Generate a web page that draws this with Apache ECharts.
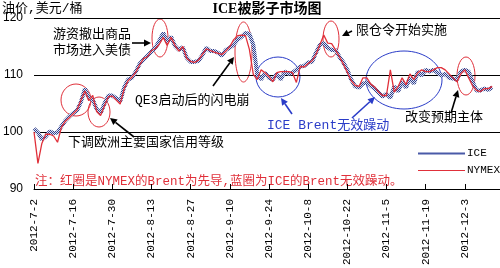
<!DOCTYPE html>
<html><head><meta charset="utf-8">
<script src="https://cdn.jsdelivr.net/npm/echarts@6/dist/echarts.min.js"></script>
<style>html,body{margin:0;padding:0;background:#fff}#c{width:500px;height:268px}</style>
</head><body><div id="c"></div>
<script>
// Category axis: trading days (weekdays) from 2012-7-2
const startDate = [2012, 7, 2];
const dayCount = 120;
const tickLabels = ['2012-7-2','2012-7-16','2012-7-30','2012-8-13','2012-8-27','2012-9-10','2012-9-24','2012-10-8','2012-10-22','2012-11-5','2012-11-19','2012-12-3'];
const categories = (function(){
  const out = []; const d = new Date(Date.UTC(startDate[0], startDate[1]-1, startDate[2]));
  while (out.length < dayCount) {
    const wd = d.getUTCDay();
    if (wd !== 0 && wd !== 6) out.push(d.getUTCFullYear()+'-'+(d.getUTCMonth()+1)+'-'+d.getUTCDate());
    d.setUTCDate(d.getUTCDate()+1);
  }
  return out;
})();
const yTicks = [90, 100, 110, 120];

const iceValues = [
100.6,99.9,98.7,99.2,100.1,99.8,99.9,101.0,102.0,102.7,
103.3,103.8,105.3,107.6,106.0,105.7,104.0,103.3,105.0,106.4,
106.4,105.9,105.3,107.8,109.2,109.5,110.6,112.0,112.7,113.4,
114.1,114.8,116.0,117.4,115.8,116.7,115.1,114.4,114.9,113.0,
112.3,112.3,112.5,113.5,114.8,114.2,114.2,113.9,113.4,114.4,
114.8,115.3,116.2,116.7,117.4,117.2,115.3,110.1,109.2,110.4,
109.5,109.2,110.2,109.2,110.6,110.2,110.4,110.9,111.5,111.6,
112.2,112.3,113.9,115.3,115.6,114.8,114.4,114.4,113.2,112.2,
110.9,109.2,108.0,107.8,108.5,108.7,108.1,107.6,106.9,106.2,
106.7,106.0,108.0,107.1,108.8,107.8,109.5,108.5,110.6,109.9,
110.9,110.6,110.9,110.4,109.9,110.2,109.5,109.4,109.2,110.6,
110.9,110.6,108.8,107.3,107.3,107.6,107.4,107.8
];
const nymexValues = [
100.0,94.5,98.0,99.6,99.6,99.3,98.2,100.8,101.9,102.5,
103.2,103.9,105.6,107.2,105.5,106.4,103.6,102.9,104.6,106.2,
106.3,105.6,104.9,107.5,109.0,109.6,110.5,111.8,112.9,113.2,
114.3,114.6,115.4,116.6,115.2,116.6,115.2,114.2,115.0,112.9,
112.4,112.2,112.6,113.6,114.6,114.3,114.0,113.8,113.6,114.2,
115.0,116.2,116.9,117.0,116.9,114.5,110.1,109.2,110.9,110.4,
109.7,108.8,110.4,110.6,110.6,110.6,110.4,108.7,111.5,111.4,
112.0,112.5,113.6,115.3,117.0,115.6,115.5,114.4,113.2,111.9,
110.5,109.0,108.2,108.0,109.5,109.5,108.4,107.9,107.0,106.4,
106.4,110.9,107.0,108.0,109.5,108.3,110.2,109.2,110.4,110.9,
110.6,110.6,110.9,111.3,111.3,110.9,110.2,109.5,108.8,110.2,
110.9,109.5,108.1,107.3,107.1,107.6,107.6,108.0
];
const seriesNames = ['ICE', 'NYMEX'];

// checkered pattern for the ICE line
const pc = document.createElement('canvas'); pc.width = 2; pc.height = 2;
const pg = pc.getContext('2d');
pg.fillStyle = '#dde4f4'; pg.fillRect(0,0,2,2);
pg.fillStyle = '#33418c'; pg.fillRect(0,0,1,1); pg.fillRect(1,1,1,1);

const CJK = '"Liberation Mono","Noto Sans CJK SC",monospace';
function txt(t, x, y, color, size, align) {
  return {type:'text', silent:true, style:{text:t, x:x, y:y, fill:color||'#000', font:(size||13)+'px '+CJK, textAlign:align||'left', textVerticalAlign:'middle'}};
}
function ell(cx, cy, rx, ry, color) {
  return {type:'ellipse', silent:true, shape:{cx:cx, cy:cy, rx:rx, ry:ry}, style:{fill:'none', stroke:color, lineWidth:1}};
}
function arrow(x1, y1, x2, y2, color) {
  const dx = x2-x1, dy = y2-y1, L = Math.sqrt(dx*dx+dy*dy), ux = dx/L, uy = dy/L;
  const hl = 7, hw = 3.5;
  const bx = x2-ux*hl, by = y2-uy*hl;
  return [
    {type:'line', silent:true, shape:{x1:x1,y1:y1,x2:bx,y2:by}, style:{stroke:color, lineWidth:1.6}},
    {type:'polygon', silent:true, shape:{points:[[x2,y2],[bx-uy*hw,by+ux*hw],[bx+uy*hw,by-ux*hw]]}, style:{fill:color}}
  ];
}
const RED = '#e0303a', BLUE = '#2a3cc8';
const graphics = [
  {type:'text', silent:true, style:{text:'ICE被影子市场图', x:267, y:9, fill:'#000', font:'bold 14px "Liberation Serif","Noto Sans CJK SC",serif', textAlign:'center', textVerticalAlign:'middle'}},
  txt('油价,美元/桶', 2, 9, '#000', 13),
  txt('游资撤出商品', 53, 35),
  txt('市场进入美债', 53, 51),
  txt('QE3启动后的闪电崩', 135, 101),
  txt('下调欧洲主要国家信用等级', 68, 143),
  txt('限仓令开始实施', 356, 31),
  txt('ICE Brent无效躁动', 267, 126, BLUE),
  txt('改变预期主体', 405, 118),
  txt('注：红圈是NYMEX的Brent为先导,蓝圈为ICE的Brent无效躁动。', 35, 182, RED, 12.5),
  ell(76, 100, 15, 16, RED),
  ell(99, 112, 11, 15, RED),
  ell(160, 38, 8, 19, RED),
  ell(243.5, 52, 8.5, 30, RED),
  ell(331, 39, 8, 18, RED),
  ell(466, 76, 9, 19, RED),
  ell(278, 77, 22, 20, BLUE),
  ell(404, 80, 38, 29, BLUE)
].concat(
  arrow(132,43,151,43,'#000'),
  arrow(213,86,234,57,'#000'),
  arrow(134,137,110,118,'#000'),
  arrow(352,31,342,36,'#000'),
  arrow(292,114,281,98,BLUE),
  arrow(352,118,375,97,BLUE),
  arrow(451,113,458,90,'#000')
);

const chart = echarts.init(document.getElementById('c'), null, {renderer:'canvas'});
chart.setOption({
  animation:false,
  backgroundColor:'#fff',
  grid:{left:33, right:0, top:18, bottom:78, containLabel:false},
  legend:{
    orient:'vertical', left:413, top:143, itemWidth:47, itemHeight:14, itemGap:6,
    data:[
      {name:seriesNames[0], icon:'path://M0,6 L47,6 L47,8 L0,8 Z', itemStyle:{color:'#4a5aa8'}},
      {name:seriesNames[1], icon:'path://M0,6.5 L47,6.5 L47,7.5 L0,7.5 Z', itemStyle:{color:RED}}
    ],
    textStyle:{color:'#000', fontSize:11, fontFamily:'"Liberation Mono",monospace', padding:[0,0,0,-3]}
  },
  xAxis:{
    type:'category', data:categories, boundaryGap:false,
    axisLine:{lineStyle:{color:'#000', width:1}},
    axisTick:{inside:true, length:5, interval:function(i){return tickLabels.indexOf(categories[i])>=0;}, lineStyle:{color:'#000'}},
    axisLabel:{rotate:90, margin:10, color:'#000', fontSize:11, fontFamily:'"Liberation Mono",monospace',
      interval:function(i){return tickLabels.indexOf(categories[i])>=0;}},
    splitLine:{show:false}
  },
  yAxis:{
    type:'value', min:yTicks[0], max:yTicks[yTicks.length-1], interval:10,
    axisLine:{show:false}, axisTick:{show:false},
    axisLabel:{color:'#000', fontSize:12, fontFamily:'"Liberation Sans",sans-serif', margin:11},
    splitLine:{lineStyle:{color:'#000', width:1}}
  },
  series:[
    {name:seriesNames[0], type:'line', data:iceValues, symbol:'none', showSymbol:false,
      lineStyle:{color:{image:pc, repeat:'repeat'}, width:4}, itemStyle:{color:'#4a5aa8'}, z:2},
    {name:seriesNames[1], type:'line', data:nymexValues, symbol:'none', showSymbol:false,
      lineStyle:{color:RED, width:1.3}, itemStyle:{color:RED}, z:3}
  ],
  graphic:graphics
});
</script>
</body></html>
